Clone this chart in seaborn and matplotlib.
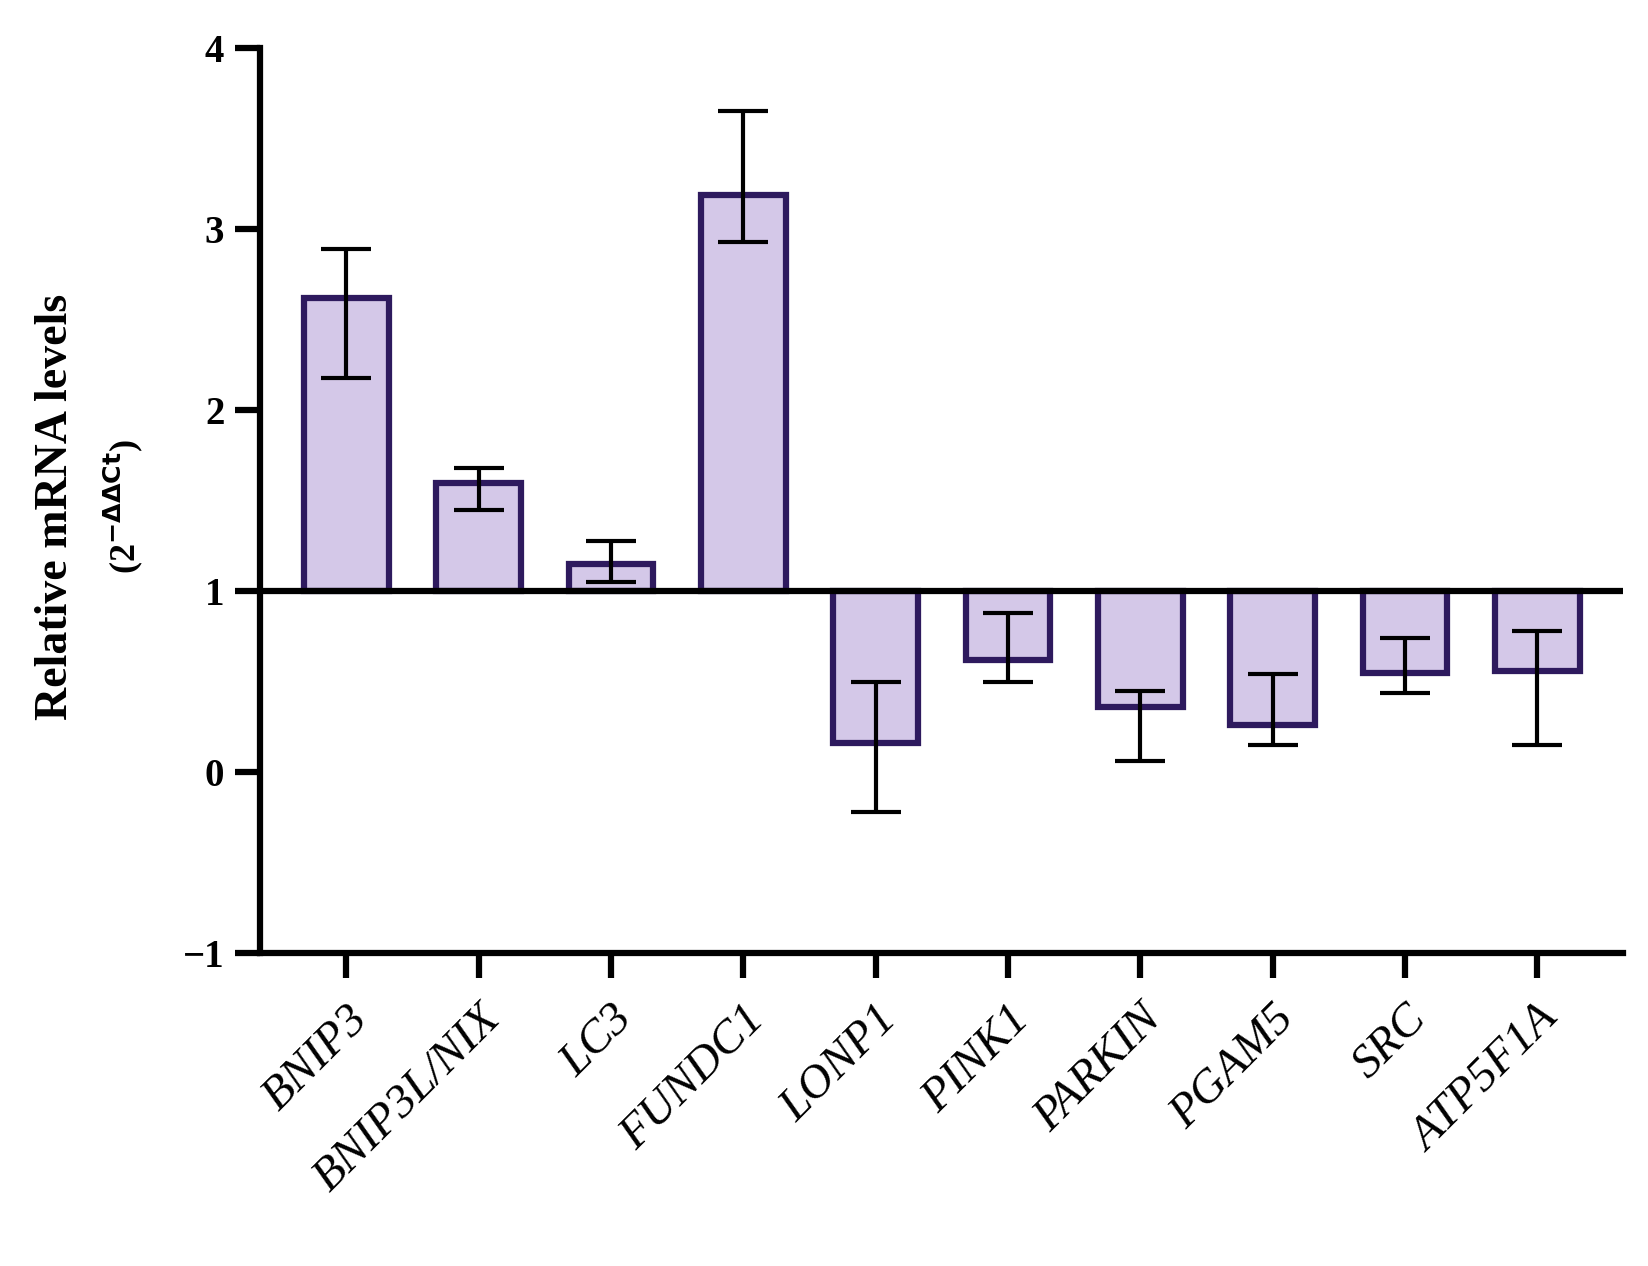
import matplotlib
matplotlib.use("Agg")
import matplotlib.pyplot as plt
import seaborn as sns
import numpy as np
import pandas as pd

genes = ["BNIP3", "BNIP3L/NIX", "LC3", "FUNDC1", "LONP1", "PINK1", "PARKIN", "PGAM5", "SRC", "ATP5F1A"]
values = [2.62, 1.60, 1.15, 3.19, 0.16, 0.62, 0.36, 0.26, 0.55, 0.56]
err_low = [2.18, 1.45, 1.05, 2.93, -0.22, 0.50, 0.06, 0.15, 0.44, 0.15]
err_high = [2.89, 1.68, 1.28, 3.65, 0.50, 0.88, 0.45, 0.54, 0.74, 0.78]

sns.set_theme(style="ticks")
plt.rcParams['font.family'] = ['Liberation Serif', 'DejaVu Serif']

df = pd.DataFrame({"gene": genes, "h": np.array(values) - 1})
fig = plt.figure(figsize=(16.48, 12.66), dpi=100)
ax = fig.add_axes([0.158, 0.247, 0.827, 0.715])
sns.barplot(data=df, x="gene", y="h", bottom=1, color="#d4c8e8", edgecolor="#2e1a5e",
            linewidth=4.5, width=0.64, saturation=1, ax=ax)
x = np.arange(len(genes))
v = np.array(values)
ax.errorbar(x, v, yerr=[v - np.array(err_low), np.array(err_high) - v], fmt="none",
            ecolor="black", elinewidth=3, capsize=18, capthick=3)
ax.axhline(1, color="black", lw=4.5, zorder=5)
ax.set_ylim(-1, 4)
ax.set_xlim(-0.65, 9.65)
ax.set_yticks([-1, 0, 1, 2, 3, 4])
ax.set_yticklabels(["\u22121", "0", "1", "2", "3", "4"], fontsize=28, fontweight="bold", color="black")
ax.set_xticks(x)
ax.set_xticklabels(genes, rotation=45, ha="right", rotation_mode="anchor",
                   fontsize=34, fontstyle="italic", color="black")
for s in ["top", "right"]:
    ax.spines[s].set_visible(False)
for s in ["left", "bottom"]:
    ax.spines[s].set_linewidth(4.5)
    ax.spines[s].set_color("black")
ax.tick_params(axis="both", which="major", length=18, width=4.5, color="black",
               direction="out", pad=8, bottom=True, left=True)
ax.tick_params(axis="x", pad=14)
ax.set_xlabel("")
ax.set_ylabel("")
fig.text(0.034, 0.6, "Relative mRNA levels", rotation=90, fontsize=33, fontweight="bold",
         ha="center", va="center", color="black")
fig.text(0.075, 0.6, "(2$^{\\mathbf{-\\Delta\\Delta Ct}}$)", rotation=90, fontsize=26, fontweight="bold",
         ha="center", va="center", color="black")
fig.savefig("out.png", dpi=100)
